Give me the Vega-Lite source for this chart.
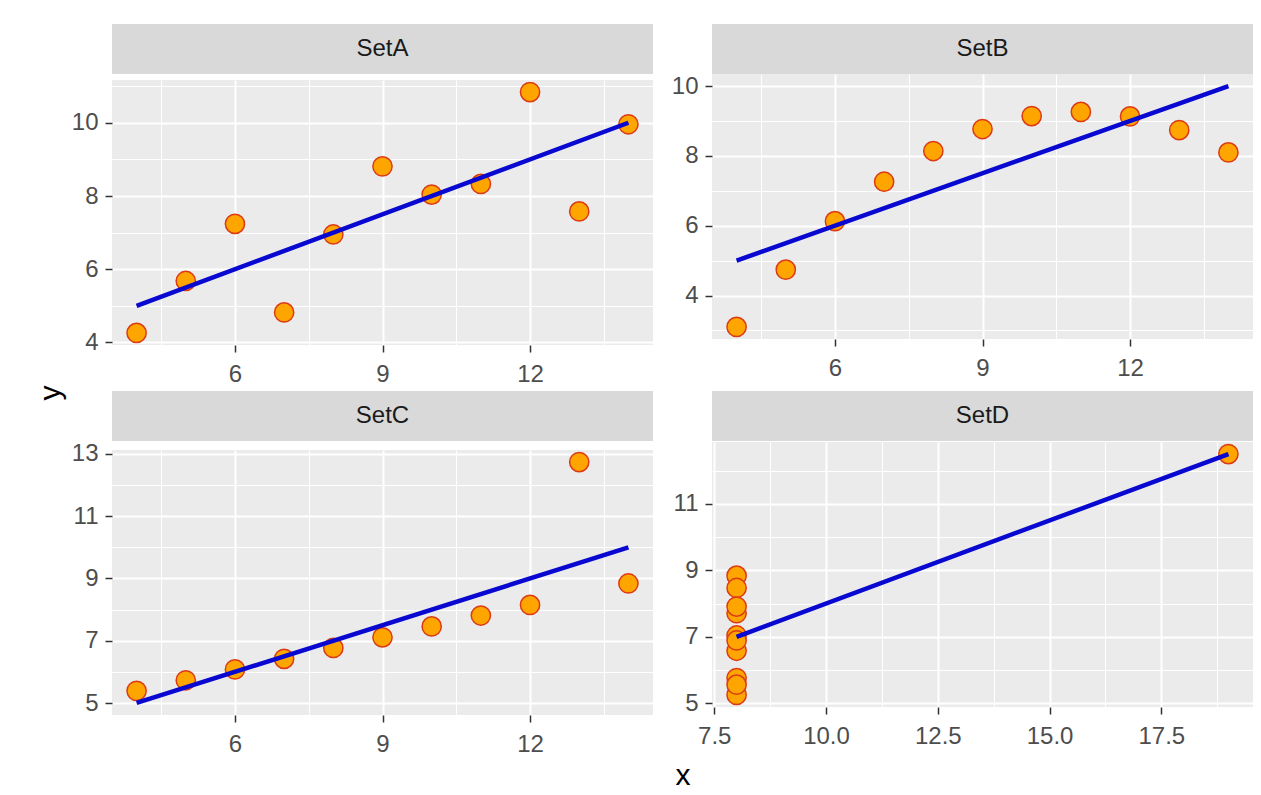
{
  "$schema": "https://vega.github.io/schema/vega-lite/v6.json",
  "background": "#FFFFFF",
  "padding": {"left": 36, "top": 24, "right": 0, "bottom": 0},
  "datasets": {
    "anscombe": [
      {"set": "SetA", "x": 10, "y": 8.04}, {"set": "SetA", "x": 8, "y": 6.95}, {"set": "SetA", "x": 13, "y": 7.58}, {"set": "SetA", "x": 9, "y": 8.81}, {"set": "SetA", "x": 11, "y": 8.33}, {"set": "SetA", "x": 14, "y": 9.96}, {"set": "SetA", "x": 6, "y": 7.24}, {"set": "SetA", "x": 4, "y": 4.26}, {"set": "SetA", "x": 12, "y": 10.84}, {"set": "SetA", "x": 7, "y": 4.82}, {"set": "SetA", "x": 5, "y": 5.68},
      {"set": "SetB", "x": 10, "y": 9.14}, {"set": "SetB", "x": 8, "y": 8.14}, {"set": "SetB", "x": 13, "y": 8.74}, {"set": "SetB", "x": 9, "y": 8.77}, {"set": "SetB", "x": 11, "y": 9.26}, {"set": "SetB", "x": 14, "y": 8.10}, {"set": "SetB", "x": 6, "y": 6.13}, {"set": "SetB", "x": 4, "y": 3.10}, {"set": "SetB", "x": 12, "y": 9.13}, {"set": "SetB", "x": 7, "y": 7.26}, {"set": "SetB", "x": 5, "y": 4.74},
      {"set": "SetC", "x": 10, "y": 7.46}, {"set": "SetC", "x": 8, "y": 6.77}, {"set": "SetC", "x": 13, "y": 12.74}, {"set": "SetC", "x": 9, "y": 7.11}, {"set": "SetC", "x": 11, "y": 7.81}, {"set": "SetC", "x": 14, "y": 8.84}, {"set": "SetC", "x": 6, "y": 6.08}, {"set": "SetC", "x": 4, "y": 5.39}, {"set": "SetC", "x": 12, "y": 8.15}, {"set": "SetC", "x": 7, "y": 6.42}, {"set": "SetC", "x": 5, "y": 5.73},
      {"set": "SetD", "x": 8, "y": 6.58}, {"set": "SetD", "x": 8, "y": 5.76}, {"set": "SetD", "x": 8, "y": 7.71}, {"set": "SetD", "x": 8, "y": 8.84}, {"set": "SetD", "x": 8, "y": 8.47}, {"set": "SetD", "x": 8, "y": 7.04}, {"set": "SetD", "x": 8, "y": 5.25}, {"set": "SetD", "x": 19, "y": 12.50}, {"set": "SetD", "x": 8, "y": 5.56}, {"set": "SetD", "x": 8, "y": 7.91}, {"set": "SetD", "x": 8, "y": 6.89}
    ]
  },
  "config": {
    "font": "Liberation Sans",
    "view": {"stroke": null},
    "axis": {"domain": false, "labelFontSize": 24, "labelColor": "#4D4D4D", "tickColor": "#333333", "tickSize": 7, "tickWidth": 1.5, "gridColor": "#FFFFFF", "labelOverlap": false, "labelFlush": false},
    "axisX": {"labelPadding": 10},
    "axisY": {"labelPadding": 7}
  },
  "spacing": 5,
  "hconcat": [
    {
      "width": 30, "height": 738,
      "data": {"values": [{"t": "y"}]},
      "mark": {"type": "text", "angle": 270, "fontSize": 30, "color": "#000000"},
      "encoding": {"text": {"field": "t"}}
    },
    {
      "spacing": 5,
      "vconcat": [
        {
          "spacing": 18,
          "hconcat": [
            {
              "spacing": 0,
              "vconcat": [
                {
                  "width": 541, "height": 50,
                  "view": {"fill": "#D9D9D9", "stroke": null},
                  "data": {"values": [{"label": "SetA"}]},
                  "mark": {"type": "text", "fontSize": 24, "color": "#1A1A1A"},
                  "encoding": {
                    "text": {"field": "label"},
                    "y": {"field": "label", "type": "nominal", "axis": {"labels": false, "ticks": false, "domain": false, "grid": false, "title": null, "minExtent": 41, "maxExtent": 41}}
                  }
                },
                {
                  "width": 541, "height": 265,
                  "view": {"fill": "#EBEBEB", "stroke": null},
                  "data": {"name": "anscombe"},
                  "transform": [{"filter": "datum.set === 'SetA'"}],
                  "encoding": {
                    "x": {"field": "x", "type": "quantitative", "scale": {"domain": [3.5, 14.5], "nice": false, "zero": false},
                      "axis": {"title": null, "values": [4.5, 6, 7.5, 9, 10.5, 12, 13.5], "labelExpr": "datum.value % 3 === 0 ? datum.label : ''", "gridWidth": {"condition": {"test": "datum.value % 3 === 0", "value": 2}, "value": 1}, "tickOpacity": {"condition": {"test": "datum.value % 3 === 0", "value": 1}, "value": 0}, "minExtent": 41, "maxExtent": 41}},
                    "y": {"field": "y", "type": "quantitative", "scale": {"domain": [3.931, 11.169], "nice": false, "zero": false},
                      "axis": {"title": null, "values": [4, 5, 6, 7, 8, 9, 10, 11], "labelExpr": "datum.value % 2 === 0 ? datum.label : ''", "gridWidth": {"condition": {"test": "datum.value % 2 === 0", "value": 2}, "value": 1}, "tickOpacity": {"condition": {"test": "datum.value % 2 === 0", "value": 1}, "value": 0}, "minExtent": 41, "maxExtent": 41}}
                  },
                  "layer": [
                    {"mark": {"type": "circle", "size": 370, "fill": "#FFA500", "stroke": "#DC3A14", "strokeWidth": 1.5, "opacity": 1}},
                    {"transform": [{"regression": "y", "on": "x"}], "mark": {"type": "line", "color": "#0808D0", "strokeWidth": 4.5}}
                  ]
                }
              ]
            },
            {
              "spacing": 0,
              "vconcat": [
                {
                  "width": 541, "height": 50,
                  "view": {"fill": "#D9D9D9", "stroke": null},
                  "data": {"values": [{"label": "SetB"}]},
                  "mark": {"type": "text", "fontSize": 24, "color": "#1A1A1A"},
                  "encoding": {
                    "text": {"field": "label"},
                    "y": {"field": "label", "type": "nominal", "axis": {"labels": false, "ticks": false, "domain": false, "grid": false, "title": null, "minExtent": 41, "maxExtent": 41}}
                  }
                },
                {
                  "width": 541, "height": 265,
                  "view": {"fill": "#EBEBEB", "stroke": null},
                  "data": {"name": "anscombe"},
                  "transform": [{"filter": "datum.set === 'SetB'"}],
                  "encoding": {
                    "x": {"field": "x", "type": "quantitative", "scale": {"domain": [3.5, 14.5], "nice": false, "zero": false},
                      "axis": {"title": null, "values": [4.5, 6, 7.5, 9, 10.5, 12, 13.5], "labelExpr": "datum.value % 3 === 0 ? datum.label : ''", "gridWidth": {"condition": {"test": "datum.value % 3 === 0", "value": 2}, "value": 1}, "tickOpacity": {"condition": {"test": "datum.value % 3 === 0", "value": 1}, "value": 0}, "minExtent": 41, "maxExtent": 41}},
                    "y": {"field": "y", "type": "quantitative", "scale": {"domain": [2.755, 10.346], "nice": false, "zero": false},
                      "axis": {"title": null, "values": [3, 4, 5, 6, 7, 8, 9, 10], "labelExpr": "datum.value % 2 === 0 ? datum.label : ''", "gridWidth": {"condition": {"test": "datum.value % 2 === 0", "value": 2}, "value": 1}, "tickOpacity": {"condition": {"test": "datum.value % 2 === 0", "value": 1}, "value": 0}, "minExtent": 41, "maxExtent": 41}}
                  },
                  "layer": [
                    {"mark": {"type": "circle", "size": 370, "fill": "#FFA500", "stroke": "#DC3A14", "strokeWidth": 1.5, "opacity": 1}},
                    {"transform": [{"regression": "y", "on": "x"}], "mark": {"type": "line", "color": "#0808D0", "strokeWidth": 4.5}}
                  ]
                }
              ]
            }
          ]
        },
        {
          "spacing": 18,
          "hconcat": [
            {
              "spacing": 0,
              "vconcat": [
                {
                  "width": 541, "height": 50,
                  "view": {"fill": "#D9D9D9", "stroke": null},
                  "data": {"values": [{"label": "SetC"}]},
                  "mark": {"type": "text", "fontSize": 24, "color": "#1A1A1A"},
                  "encoding": {
                    "text": {"field": "label"},
                    "y": {"field": "label", "type": "nominal", "axis": {"labels": false, "ticks": false, "domain": false, "grid": false, "title": null, "minExtent": 41, "maxExtent": 41}}
                  }
                },
                {
                  "width": 541, "height": 265,
                  "view": {"fill": "#EBEBEB", "stroke": null},
                  "data": {"name": "anscombe"},
                  "transform": [{"filter": "datum.set === 'SetC'"}],
                  "encoding": {
                    "x": {"field": "x", "type": "quantitative", "scale": {"domain": [3.5, 14.5], "nice": false, "zero": false},
                      "axis": {"title": null, "values": [4.5, 6, 7.5, 9, 10.5, 12, 13.5], "labelExpr": "datum.value % 3 === 0 ? datum.label : ''", "gridWidth": {"condition": {"test": "datum.value % 3 === 0", "value": 2}, "value": 1}, "tickOpacity": {"condition": {"test": "datum.value % 3 === 0", "value": 1}, "value": 0}, "minExtent": 41, "maxExtent": 41}},
                    "y": {"field": "y", "type": "quantitative", "scale": {"domain": [4.615, 13.127], "nice": false, "zero": false},
                      "axis": {"title": null, "values": [5, 6, 7, 8, 9, 10, 11, 12, 13], "labelExpr": "datum.value % 2 === 1 ? datum.label : ''", "gridWidth": {"condition": {"test": "datum.value % 2 === 1", "value": 2}, "value": 1}, "tickOpacity": {"condition": {"test": "datum.value % 2 === 1", "value": 1}, "value": 0}, "minExtent": 41, "maxExtent": 41}}
                  },
                  "layer": [
                    {"mark": {"type": "circle", "size": 370, "fill": "#FFA500", "stroke": "#DC3A14", "strokeWidth": 1.5, "opacity": 1}},
                    {"transform": [{"regression": "y", "on": "x"}], "mark": {"type": "line", "color": "#0808D0", "strokeWidth": 4.5}}
                  ]
                }
              ]
            },
            {
              "spacing": 0,
              "vconcat": [
                {
                  "width": 541, "height": 50,
                  "view": {"fill": "#D9D9D9", "stroke": null},
                  "data": {"values": [{"label": "SetD"}]},
                  "mark": {"type": "text", "fontSize": 24, "color": "#1A1A1A"},
                  "encoding": {
                    "text": {"field": "label"},
                    "y": {"field": "label", "type": "nominal", "axis": {"labels": false, "ticks": false, "domain": false, "grid": false, "title": null, "minExtent": 41, "maxExtent": 41}}
                  }
                },
                {
                  "width": 541, "height": 265,
                  "view": {"fill": "#EBEBEB", "stroke": null},
                  "data": {"name": "anscombe"},
                  "transform": [{"filter": "datum.set === 'SetD'"}],
                  "encoding": {
                    "x": {"field": "x", "type": "quantitative", "scale": {"domain": [7.45, 19.55], "nice": false, "zero": false},
                      "axis": {"title": null, "format": ".1f", "values": [7.5, 8.75, 10, 11.25, 12.5, 13.75, 15, 16.25, 17.5, 18.75], "labelExpr": "(datum.value * 2) % 5 === 0 ? datum.label : ''", "gridWidth": {"condition": {"test": "(datum.value * 2) % 5 === 0", "value": 2}, "value": 1}, "tickOpacity": {"condition": {"test": "(datum.value * 2) % 5 === 0", "value": 1}, "value": 0}, "minExtent": 41, "maxExtent": 41}},
                    "y": {"field": "y", "type": "quantitative", "scale": {"domain": [4.8875, 12.8625], "nice": false, "zero": false},
                      "axis": {"title": null, "values": [5, 6, 7, 8, 9, 10, 11, 12], "labelExpr": "datum.value % 2 === 1 ? datum.label : ''", "gridWidth": {"condition": {"test": "datum.value % 2 === 1", "value": 2}, "value": 1}, "tickOpacity": {"condition": {"test": "datum.value % 2 === 1", "value": 1}, "value": 0}, "minExtent": 41, "maxExtent": 41}}
                  },
                  "layer": [
                    {"mark": {"type": "circle", "size": 370, "fill": "#FFA500", "stroke": "#DC3A14", "strokeWidth": 1.5, "opacity": 1}},
                    {"transform": [{"regression": "y", "on": "x"}], "mark": {"type": "line", "color": "#0808D0", "strokeWidth": 4.5}}
                  ]
                }
              ]
            }
          ]
        },
        {
          "width": 1142, "height": 30,
          "data": {"values": [{"t": "x"}]},
          "mark": {"type": "text", "fontSize": 30, "color": "#000000"},
          "encoding": {
            "text": {"field": "t"},
            "y": {"field": "t", "type": "nominal", "axis": {"labels": false, "ticks": false, "domain": false, "grid": false, "title": null, "minExtent": 41, "maxExtent": 41}}
          }
        }
      ]
    }
  ]
}
